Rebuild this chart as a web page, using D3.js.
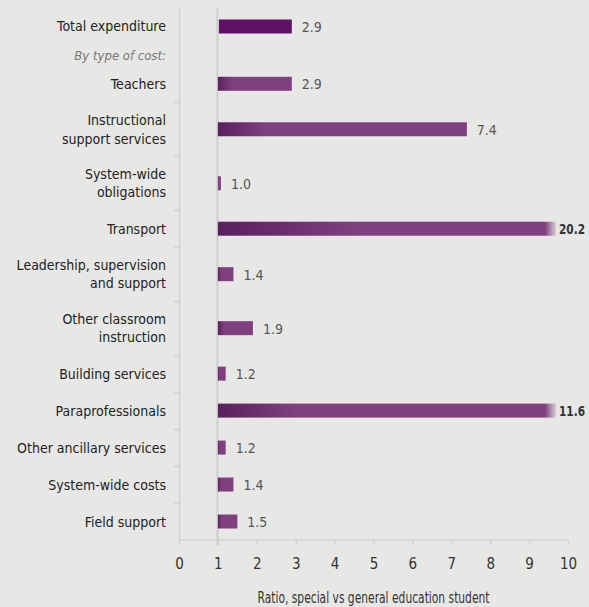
<!DOCTYPE html>
<html><head><meta charset="utf-8">
<script src="https://cdn.jsdelivr.net/npm/d3@7"></script>
<style>
html,body{margin:0;padding:0;background:#e7e8e6;}
svg{display:block;font-family:"Liberation Sans Narrow","DejaVu Sans Condensed",sans-serif;}
</style></head><body>
<svg id="c" width="589" height="607"></svg>
<script>
const categories = ["Total expenditure","Teachers","Instructional|support services","System-wide|obligations","Transport","Leadership, supervision|and support","Other classroom|instruction","Building services","Paraprofessionals","Other ancillary services","System-wide costs","Field support"];
const values = [2.9,2.9,7.4,1.0,20.2,1.4,1.9,1.2,11.6,1.2,1.4,1.5];
const headerLabel = "By type of cost:";
const xTicks = [0,1,2,3,4,5,6,7,8,9,10];
const xTitle = "Ratio, special vs general education student";

const W=589,H=607;
const svg=d3.select("#c");
const x=d3.scaleLinear().domain([0,10]).range([179,568]);
const clipX=556;

// row layout (units: one-line row = 1, two-line = 1.46, header = 0.55)
const rows=[];
categories.forEach((c,i)=>{
  const lines=c.split("|");
  rows.push({type:"bar",i,lines,units:lines.length>1?1.46:1});
  if(i===0) rows.push({type:"header",units:0.55});
});
let cum=0;
rows.forEach(r=>{r.u0=cum;cum+=r.units;r.u1=cum;});
const y=d3.scaleLinear().domain([0,cum]).range([8,540]);

const defs=svg.append("defs");
const dark="#5a1f5e",main="#80407f";

// left axis and x=1 reference line
svg.append("line").attr("x1",179.5).attr("x2",179.5).attr("y1",8).attr("y2",540).attr("stroke","#d2d2d0").attr("stroke-width",1.5);
svg.append("line").attr("x1",x(1)-0.5).attr("x2",x(1)-0.5).attr("y1",8).attr("y2",545).attr("stroke","#cfcfcd").attr("stroke-width",2);

// left ticks at boundaries
rows.forEach(r=>{
  if(r.type==="bar" && r.i>=2){
    const yy=Math.round(y(r.u0))+0.5;
    svg.append("line").attr("x1",174).attr("x2",179.5).attr("y1",yy).attr("y2",yy).attr("stroke","#d2d2d0").attr("stroke-width",1.5);
  }
});

// bottom axis
const ax=svg.append("g").attr("transform","translate(0,540)").call(d3.axisBottom(x).tickValues(xTicks).tickSize(5).tickFormat(d3.format("d")));
ax.select(".domain").attr("stroke","#d2d2d0").attr("stroke-width",1.5).attr("d","M179,0H568");
ax.selectAll(".tick line").attr("stroke","#d2d2d0").attr("stroke-width",1.5);
ax.selectAll(".tick text").attr("fill","#333").attr("font-size",15).attr("dy",0).attr("y",29).attr("font-family","\"Liberation Sans Narrow\",\"DejaVu Sans Condensed\",sans-serif");

svg.append("text").attr("x",(x(0)+x(10))/2).attr("y",602.5).attr("text-anchor","middle").attr("fill","#333").attr("font-size",15)
  .attr("textLength",232).attr("lengthAdjust","spacingAndGlyphs").text(xTitle);

// labels and bars
rows.forEach(r=>{
  const cy=(y(r.u0)+y(r.u1))/2;
  if(r.type==="header"){
    svg.append("text").attr("x",166).attr("y",cy+5).attr("text-anchor","end").attr("fill","#777").attr("font-style","italic").attr("font-size",13).text(headerLabel);
    return;
  }
  const i=r.i,v=values[i];
  const n=r.lines.length;
  const t=svg.append("text").attr("text-anchor","end").attr("fill","#222").attr("font-size",14);
  r.lines.forEach((ln,j)=>{
    t.append("tspan").attr("x",166).attr("y",cy+5+(j-(n-1)/2)*18.5).text(ln);
  });
  const x1=x(1);
  const full=x(v);
  const trunc=full>clipX;
  const x2=trunc?clipX:Math.max(full,x1+3);
  const bh=14;
  let fill;
  if(i===0){ fill="#5f1166"; }
  else{
    const id="g"+i;
    const darkEnd=x1+0.19*(full-x1);
    const g=defs.append("linearGradient").attr("id",id).attr("gradientUnits","userSpaceOnUse")
      .attr("x1",x1).attr("x2",x2).attr("y1",0).attr("y2",0);
    const span=Math.max(x2-x1,1);
    g.append("stop").attr("offset",0).attr("stop-color",dark);
    g.append("stop").attr("offset",Math.min((darkEnd-x1)/span,1)).attr("stop-color",main);
    if(trunc){
      g.append("stop").attr("offset",(clipX-11-x1)/span).attr("stop-color",main);
      g.append("stop").attr("offset",1).attr("stop-color",main).attr("stop-opacity",0.15);
    } else {
      g.append("stop").attr("offset",1).attr("stop-color",main);
    }
    fill="url(#"+id+")";
  }
  const bx=i===0?x1+1:x1;
  svg.append("rect").attr("x",bx).attr("y",cy-bh/2).attr("width",x2-bx).attr("height",bh).attr("fill",fill);
  const lab=svg.append("text").attr("x",trunc?x2+3:x2+10).attr("y",cy+5.5)
    .attr("fill",trunc?"#333":"#555").attr("font-weight",trunc?"bold":"normal").attr("font-size",14)
    .text(d3.format(".1f")(v));
  if(trunc) lab.attr("textLength",26).attr("lengthAdjust","spacingAndGlyphs");
});
</script>
</body></html>
